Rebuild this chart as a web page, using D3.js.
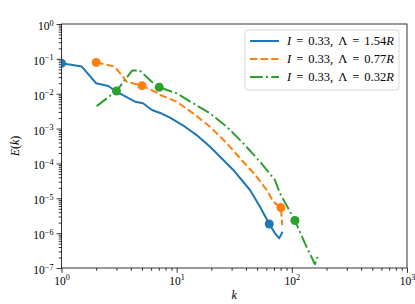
<!DOCTYPE html>
<html><head><meta charset="utf-8">
<script src="https://cdn.jsdelivr.net/npm/d3@7"></script>
<style>body{margin:0;background:#fff}svg{display:block}</style>
</head><body><svg id="c" width="415" height="304"></svg>
<script>
// ---- data ----
const kBlue = [1, 1.5, 2.0, 2.55, 3.0, 4.35, 5.1, 6.1, 7.4, 8.75, 9.35, 11.8, 14.9, 19.5, 25.4, 31, 36.7, 43.3, 52.9, 63.7, 71.3, 77.7, 83];
const eBlue = [0.075, 0.06, 0.02, 0.0166, 0.0114, 0.0059, 0.0053, 0.0034, 0.0027, 0.00205, 0.0018, 0.00113, 0.00065, 0.0003, 0.000126, 6.5e-5, 3.35e-5, 1.73e-5, 5.7e-6, 1.83e-6, 1.0e-6, 7.1e-7, 1.1e-6];
const kBlueMk = [1, 63.7];
const eBlueMk = [0.075, 1.83e-6];

const kOrange = [2, 2.9, 3.7, 5.0, 6.5, 7.2, 10, 13.9, 19.5, 27.2, 37.8, 49.5, 60.4, 69, 80.4, 82.5];
const eOrange = [0.079, 0.06, 0.022, 0.017, 0.0114, 0.0092, 0.0059, 0.00274, 0.00113, 0.00038, 0.000112, 4.2e-5, 1.73e-5, 8e-6, 5.4e-6, 1.7e-6];
const kOrangeMk = [2, 5.0, 80.4];
const eOrangeMk = [0.079, 0.017, 5.4e-6];

const kGreen = [2.02, 3.0, 4.1, 4.8, 6.07, 7.06, 10, 13.9, 19.5, 27.2, 37.8, 52.9, 71.3, 78.8, 106.4, 130, 158.6, 169.5];
const eGreen = [0.0044, 0.012, 0.046, 0.046, 0.022, 0.0153, 0.0103, 0.0053, 0.00274, 0.00113, 0.00038, 0.000112, 3.35e-5, 1.39e-5, 2.3e-6, 5.1e-7, 1.28e-7, 2.35e-7];
const kGreenMk = [3.0, 7.06, 106.4];
const eGreenMk = [0.012, 0.0153, 2.3e-6];

const seriesLabels = ["I = 0.33, Λ = 1.54R", "I = 0.33, Λ = 0.77R", "I = 0.33, Λ = 0.32R"];
const xTickVals = [1, 10, 100, 1000];
const xTickExp = ["0", "1", "2", "3"];
const yTickVals = [1, 1e-1, 1e-2, 1e-3, 1e-4, 1e-5, 1e-6, 1e-7];
const yTickExp = ["0", "\u22121", "\u22122", "\u22123", "\u22124", "\u22125", "\u22126", "\u22127"];
const xLabel = "k";
const yLabel = ["E", "(", "k", ")"];

// ---- layout ----
const L = 61.5, R = 407, T = 24, B = 268;
const svg = d3.select("#c");
const x = d3.scaleLog().domain([1, 1000]).range([L, R]);
const y = d3.scaleLog().domain([1e-7, 1]).range([B, T]);
const font = "'Liberation Serif', 'Times New Roman', serif";
const colors = ["#1f77b4", "#ff7f0e", "#2ca02c"];
const dashes = [null, "7.4,3.2", "12.8,3.2,2,3.2"];

svg.append("defs").append("clipPath").attr("id", "clip")
  .append("rect").attr("x", L).attr("y", T).attr("width", R - L).attr("height", B - T);

// minor ticks
const minorX = [], minorY = [];
for (let d = 1; d < 1000; d *= 10) for (let m = 2; m <= 9; m++) minorX.push(d * m);
for (let d = 1e-7; d < 1; d *= 10) for (let m = 2; m <= 9; m++) minorY.push(d * m);

function styleAxis(g) {
  g.select(".domain").remove();
  g.selectAll("line").attr("stroke", "#000").attr("stroke-width", 0.8);
}
svg.append("g").attr("transform", `translate(0,${B})`)
  .call(d3.axisBottom(x).tickValues(minorX).tickSize(2.8).tickFormat(""))
  .call(styleAxis);
svg.append("g").attr("transform", `translate(${L},0)`)
  .call(d3.axisLeft(y).tickValues(minorY).tickSize(2.8).tickFormat(""))
  .call(styleAxis);

const gx = svg.append("g").attr("transform", `translate(0,${B})`)
  .call(d3.axisBottom(x).tickValues(xTickVals).tickSize(4.9).tickPadding(3).tickFormat(""))
  .call(styleAxis);
gx.selectAll(".tick").each(function (d, i) {
  const t = d3.select(this).append("text").attr("y", 16.5).attr("text-anchor", "middle")
    .attr("font-family", font).attr("font-size", 11.5).attr("fill", "#000");
  t.append("tspan").text("10");
  t.append("tspan").attr("dy", -4.5).attr("font-size", 8.2).text(xTickExp[i]);
});
const gy = svg.append("g").attr("transform", `translate(${L},0)`)
  .call(d3.axisLeft(y).tickValues(yTickVals).tickSize(4.9).tickFormat(""))
  .call(styleAxis);
gy.selectAll(".tick").each(function (d, i) {
  const t = d3.select(this).append("text").attr("x", -8).attr("y", 5.5).attr("text-anchor", "end")
    .attr("font-family", font).attr("font-size", 11.5).attr("fill", "#000");
  t.append("tspan").text("10");
  t.append("tspan").attr("dy", -4.5).attr("font-size", 8.2).text(yTickExp[i]);
});

// frame
svg.append("rect").attr("x", L).attr("y", T).attr("width", R - L).attr("height", B - T)
  .attr("fill", "none").attr("stroke", "#000").attr("stroke-width", 0.8);

// lines
const line = d3.line().x(d => x(d[0])).y(d => y(d[1]));
const plot = svg.append("g").attr("clip-path", "url(#clip)");
const series = [
  [kBlue, eBlue, kBlueMk, eBlueMk],
  [kOrange, eOrange, kOrangeMk, eOrangeMk],
  [kGreen, eGreen, kGreenMk, eGreenMk]
];
series.forEach((s, i) => {
  const pts = s[0].map((k, j) => [k, s[1][j]]);
  plot.append("path").datum(pts).attr("d", line).attr("fill", "none")
    .attr("stroke", colors[i]).attr("stroke-width", 2)
    .attr("stroke-dasharray", dashes[i]).attr("stroke-linejoin", "round");
});
series.forEach((s, i) => {
  const mk = s[2].map((k, j) => [k, s[3][j]]);
  plot.selectAll(null).data(mk).enter().append("circle")
    .attr("cx", d => x(d[0])).attr("cy", d => y(d[1])).attr("r", 4.5).attr("fill", colors[i]);
});

// axis labels
svg.append("text").attr("x", (L + R) / 2).attr("y", 299).attr("text-anchor", "middle")
  .attr("font-family", font).attr("font-size", 12).attr("font-style", "italic").text(xLabel);
const yl = svg.append("text").attr("transform", `translate(19,${(T + B) / 2}) rotate(-90)`)
  .attr("text-anchor", "middle").attr("font-family", font).attr("font-size", 12);
yLabel.forEach(p => yl.append("tspan").attr("font-style", (p === "E" || p === "k") ? "italic" : "normal").text(p));

// legend
const lg = svg.append("g");
lg.append("rect").attr("x", 245).attr("y", 30).attr("width", 154).attr("height", 60).attr("rx", 3)
  .attr("fill", "#fff").attr("fill-opacity", 0.8).attr("stroke", "#cccccc").attr("stroke-width", 0.8);
seriesLabels.forEach((lab, i) => {
  const yy = 41 + i * 18;
  lg.append("line").attr("x1", 250).attr("x2", 279).attr("y1", yy).attr("y2", yy)
    .attr("stroke", colors[i]).attr("stroke-width", 2).attr("stroke-dasharray", dashes[i]);
  const t = lg.append("text").attr("x", 287).attr("y", yy + 4).attr("font-family", font)
    .attr("font-size", 12.5).attr("fill", "#000");
  const m = lab.match(/^(I)( = [^,]+, Λ = )([0-9.]+)(R)$/);
  t.append("tspan").attr("font-style", "italic").text(m[1]);
  t.append("tspan").attr("xml:space", "preserve").text(m[2].replace(/ /g, "\u2009\u2009") + m[3]);
  t.append("tspan").attr("font-style", "italic").text(m[4]);
});
</script></body></html>
